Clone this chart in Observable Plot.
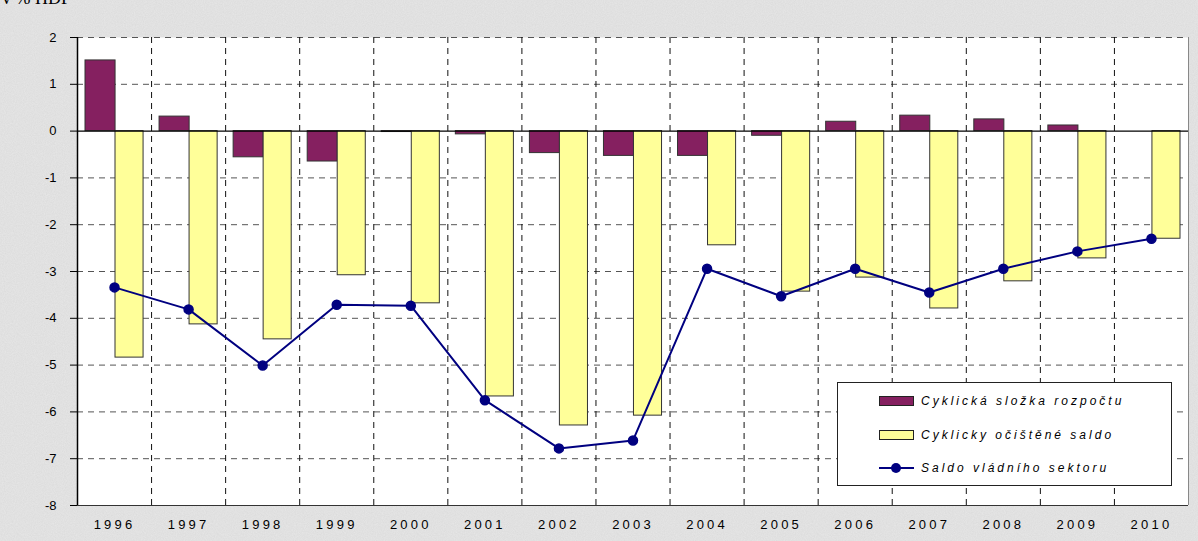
<!DOCTYPE html>
<html>
<head>
<meta charset="utf-8">
<script src="https://cdn.jsdelivr.net/npm/d3@7"></script>
<script src="https://cdn.jsdelivr.net/npm/@observablehq/plot@0.6"></script>
<style>
  html, body { margin: 0; padding: 0; }
  body {
    width: 1198px; height: 541px; overflow: hidden;
    background-color: #e7e7e7;
    background-image: url("data:image/svg+xml;utf8,<svg xmlns='http://www.w3.org/2000/svg' width='200' height='200'><filter id='n'><feTurbulence type='fractalNoise' baseFrequency='0.9' numOctaves='2' stitchTiles='stitch'/><feColorMatrix values='0 0 0 0 0.55  0 0 0 0 0.55  0 0 0 0 0.55  0 0 0 0.35 0'/></filter><rect width='200' height='200' filter='url(%23n)'/></svg>");
    font-family: Arial, "Liberation Sans", sans-serif;
  }
  #wrap { position: relative; width: 1198px; height: 541px; }
  #title { position: absolute; left: 2px; top: -12px; font: 18px "Liberation Serif", serif; color: #000; }
  #legend {
    position: absolute; left: 837px; top: 382px; width: 333px; height: 102px;
    background: #fff; border: 1px solid #222; box-sizing: content-box;
  }
  .item { position: absolute; left: 41px; height: 20px; display: flex; align-items: center; }
  .sw { width: 33px; height: 8px; border: 1px solid #222; margin-right: 7px; }
  .ln { width: 35px; height: 12px; margin-right: 7px; position: relative; }
  .ln::before { content: ""; position: absolute; left: 0; right: 0; top: 5px; height: 2px; background: #000080; }
  .ln::after { content: ""; position: absolute; left: 12px; top: 1px; width: 10px; height: 10px; border-radius: 50%; background: #000080; }
  .lt { font: italic 12px Arial, "Liberation Sans", sans-serif; letter-spacing: 3px; color: #000; }
  .xax text { letter-spacing: 3.2px; font-size: 13px; }
  .yax text { font-size: 13px; }
</style>
</head>
<body>
<div id="wrap">
  <div id="chart"></div>
  <div id="title">v % HDP</div>
  <div id="legend">
    <div class="item" style="top:8px"><div class="sw" style="background:#852060"></div><span class="lt">Cyklická složka rozpočtu</span></div>
    <div class="item" style="top:42px"><div class="sw" style="background:#ffff99"></div><span class="lt">Cyklicky očištěné saldo</span></div>
    <div class="item" style="top:75px"><div class="ln"></div><span class="lt">Saldo vládního sektoru</span></div>
  </div>
</div>
<script>
const years = [1996, 1997, 1998, 1999, 2000, 2001, 2002, 2003, 2004, 2005, 2006, 2007, 2008, 2009, 2010];
const cyclical = [1.51, 0.31, -0.56, -0.65, -0.02, -0.07, -0.47, -0.53, -0.53, -0.1, 0.2, 0.33, 0.25, 0.12, 0];
const structural = [-4.84, -4.13, -4.45, -3.08, -3.68, -5.67, -6.29, -6.08, -2.44, -3.43, -3.13, -3.79, -3.21, -2.72, -2.3];
const balance = [-3.34, -3.81, -5.01, -3.71, -3.73, -5.75, -6.78, -6.61, -2.94, -3.53, -2.94, -3.45, -2.94, -2.57, -2.3];
const yTicks = [2, 1, 0, -1, -2, -3, -4, -5, -6, -7, -8];

const data = years.map((y, i) => ({year: y, cyc: cyclical[i], str: structural[i], bal: balance[i]}));
const bounds = years.slice(0, -1).map(y => y + 0.5);

const chart = Plot.plot({
  width: 1198,
  height: 541,
  marginLeft: 77,
  marginRight: 10,
  marginTop: 37,
  marginBottom: 36,
  style: {background: "transparent", fontFamily: "Arial, 'Liberation Sans', sans-serif", fontSize: "13px", color: "#000"},
  x: {domain: [1995.5, 2010.5], axis: null},
  y: {domain: [-8, 2], axis: null},
  marks: [
    Plot.frame({fill: "#fff", stroke: null}),
    Plot.ruleY(yTicks.filter(t => t !== 0 && t !== -8), {stroke: "#555", strokeDasharray: "6,5", strokeWidth: 1}),
    Plot.ruleX(bounds, {stroke: "#111", strokeDasharray: "6,5", strokeWidth: 1}),
    Plot.ruleX([2010.5], {stroke: "#888", strokeWidth: 1}),
    Plot.rectY(data, {x1: d => d.year - 0.5, x2: d => d.year + 0.5, y: "cyc", insetLeft: 8, insetRight: 36, fill: "#852060", stroke: "#333", strokeWidth: 1}),
    Plot.rectY(data, {x1: d => d.year - 0.5, x2: d => d.year + 0.5, y: "str", insetLeft: 38, insetRight: 8, fill: "#ffff99", stroke: "#333", strokeWidth: 1}),
    Plot.ruleY([0], {stroke: "#000", strokeWidth: 1.2}),
    Plot.ruleY([-8], {stroke: "#333", strokeWidth: 1}),
    Plot.ruleX([1995.5], {stroke: "#000", strokeWidth: 1.5}),
    Plot.line(data, {x: "year", y: "bal", stroke: "#000080", strokeWidth: 2}),
    Plot.dot(data, {x: "year", y: "bal", r: 4.5, fill: "#000080", stroke: "#000080"}),
    Plot.axisY(yTicks, {anchor: "left", tickSize: 7, tickPadding: 14, label: null, tickFormat: d => String(d), stroke: "#000", fontSize: 13, className: "yax"}),
    Plot.axisX(years, {anchor: "bottom", tickSize: 0, tickPadding: 14, label: null, tickFormat: d => String(d), fontSize: 13, className: "xax"})
  ]
});
document.getElementById("chart").appendChild(chart);
</script>
</body>
</html>
